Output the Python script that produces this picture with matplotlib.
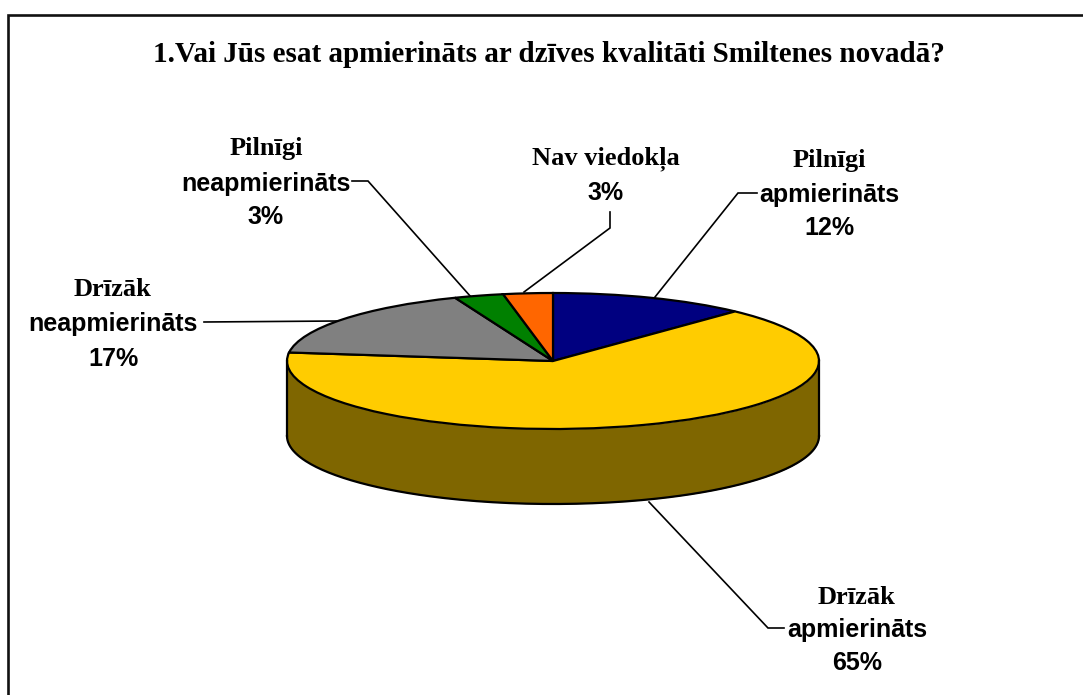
import matplotlib
matplotlib.use("Agg")
import matplotlib.pyplot as plt
import numpy as np

# ---------------- DATA ----------------

title = "1.Vai Jūs esat apmierināts ar dzīves kvalitāti Smiltenes novadā?"

first_lines = ["Pilnīgi", "Drīzāk", "Drīzāk", "Pilnīgi", "Nav viedokļa"]
second_lines = ["apmierināts", "apmierināts", "neapmierināts", "neapmierināts", ""]
values = [12, 65, 17, 3, 3]
colors = ["#000080", "#FFCC00", "#808080", "#008000", "#FF6600"]
wall_color = "#7F6600"

W, H = 1083, 695
SERIF = "Liberation Serif"
SANS = "Liberation Sans"

# ---------------- FIGURE ----------------

fig = plt.figure(figsize=(W / 100, H / 100), dpi=100, facecolor="white")

# pixel canvas for frame, labels and leaders
bg = fig.add_axes([0, 0, 1, 1])
bg.set_xlim(0, W)
bg.set_ylim(H, 0)
bg.axis("off")

# only the left and top of the frame are inside the picture
bg.plot([7.5, 7.5, W], [H, 14.5, 14.5], color="#111111", lw=1.9,
        solid_joinstyle="miter")

bg.text(549, 55, title, family=SERIF, weight="bold", fontsize=21,
        ha="center", va="center", color="black")

# ---------------- PIE ----------------

left, right, top, bottom = 287, 819, 293, 429
depth = 75 / ((bottom - top) / 2)

ax = fig.add_axes([left / W, 1 - bottom / H, (right - left) / W, (bottom - top) / H])
ax.patch.set_alpha(0)

# wall under the front half, drawn first so the top sits over it
t = np.linspace(0, -np.pi, 200)
ax.fill_between(np.cos(t), np.sin(t), np.sin(t) - depth, color=wall_color, lw=0,
                clip_on=False)
ax.plot(np.cos(t), np.sin(t) - depth, color="black", lw=1.6, clip_on=False)
ax.plot([-1, -1], [0, -depth], color="black", lw=1.6, clip_on=False)
ax.plot([1, 1], [0, -depth], color="black", lw=1.6, clip_on=False)

wedges, _ = ax.pie(values, colors=colors, startangle=90, counterclock=False, radius=1,
                   wedgeprops={"edgecolor": "black", "linewidth": 1.6, "clip_on": False})
ax.set_aspect("auto")
ax.set_xlim(-1, 1)
ax.set_ylim(-1, 1)

# ---------------- LABELS ----------------

label_pos = [(829, 160, 195, 228), (857, 597, 630, 663), (113, 290, 324, 359),
             (266, 149, 184, 217), (606, 159, 193, None)]

for i, (cx, y1, y2, y3) in enumerate(label_pos):
    pct = "%d%%" % values[i]
    bg.text(cx, y1, first_lines[i], family=SERIF, weight="bold", fontsize=19,
            ha="center", va="center")
    if second_lines[i]:
        bg.text(cx, y2, second_lines[i], family=SANS, weight="bold", fontsize=18,
                ha="center", va="center")
        bg.text(cx, y3, pct, family=SANS, weight="bold", fontsize=18,
                ha="center", va="center")
    else:
        bg.text(cx, y2, pct, family=SANS, weight="bold", fontsize=18,
                ha="center", va="center")

# leaders
leaders = [([655, 738, 757], [297, 193, 193]),
           ([649, 768, 784], [502, 628, 628]),
           ([204, 337], [322, 321]),
           ([352, 368, 471], [181, 181, 297]),
           ([524, 610, 610], [292, 228, 212])]
for xs, ys in leaders:
    bg.plot(xs, ys, color="black", lw=1.2, solid_joinstyle="miter")

fig.savefig("out.png", dpi=100)
